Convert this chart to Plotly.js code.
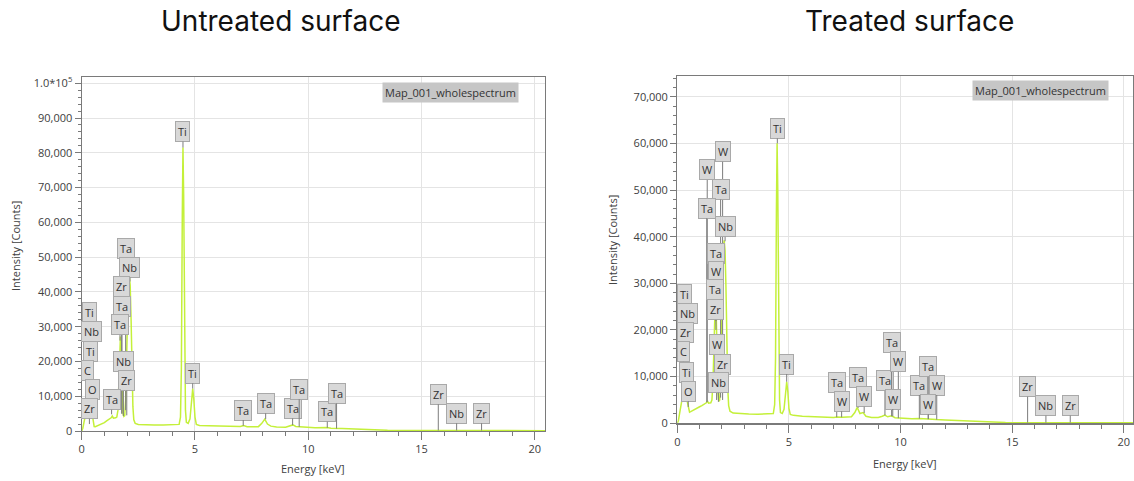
<!DOCTYPE html>
<html>
<head>
<meta charset="utf-8">
<script src="https://cdn.plot.ly/plotly-3.0.1.min.js"></script>
<style>html,body{margin:0;padding:0;background:#fff;}#chart{width:1134px;height:481px;}</style>
</head>
<body>
<div id="chart"></div>
<script>
// ---- Untreated surface spectrum (energy keV, counts) ----
const untreatedEnergy = [0,0.05,0.1,0.15,0.2,0.25,0.28,0.32,0.36,0.4,0.45,0.5,0.55,0.6,0.7,0.8,0.9,1.0,1.1,1.2,1.3,1.35,1.4,1.5,1.55,1.6,1.64,1.68,1.71,1.74,1.78,1.82,1.86,1.9,1.94,1.98,2.02,2.06,2.1,2.14,2.18,2.22,2.26,2.3,2.36,2.5,2.8,3.2,3.6,4.0,4.3,4.36,4.4,4.44,4.47,4.5,4.54,4.58,4.62,4.7,4.78,4.84,4.9,4.95,5.0,5.06,5.2,5.6,6.0,6.5,7.0,7.15,7.3,7.8,7.95,8.08,8.2,8.35,8.6,9.0,9.2,9.32,9.45,9.6,9.8,10.3,10.84,11.0,11.5,12.0,12.5,13.0,13.2,13.5,15,17,19,20.45];
const untreatedCounts = [0,800,2500,4200,5600,6200,6800,5200,5800,6000,5400,2600,1300,1250,1500,1800,2100,2400,2900,3300,3800,4300,3700,3800,4000,6000,14000,25000,27200,21000,9500,5000,4200,4400,9000,22000,36000,43000,44500,42000,32000,18000,7000,3200,2200,1900,1800,1750,1750,1800,1900,4000,18000,62000,81500,68000,26000,6000,2500,2200,3500,9000,12200,9000,4000,1900,1600,1500,1400,1300,1300,1600,1250,1250,2200,3400,2000,1400,1150,1100,1400,1750,1300,1250,1000,900,1000,800,700,600,550,480,300,200,150,120,100,100];

// ---- Treated surface spectrum ----
const treatedEnergy = [0,0.05,0.1,0.15,0.2,0.25,0.28,0.32,0.36,0.4,0.44,0.5,0.55,0.6,0.7,0.8,0.9,1.0,1.1,1.2,1.3,1.35,1.4,1.5,1.55,1.6,1.64,1.68,1.71,1.74,1.78,1.82,1.86,1.9,1.94,1.98,2.02,2.06,2.1,2.14,2.18,2.22,2.26,2.3,2.36,2.5,2.8,3.2,3.6,4.0,4.3,4.36,4.4,4.44,4.47,4.5,4.54,4.58,4.62,4.7,4.78,4.84,4.9,4.95,5.0,5.06,5.2,5.6,6.0,6.5,7.0,7.15,7.4,7.8,7.95,8.06,8.18,8.32,8.45,8.7,9.0,9.18,9.3,9.42,9.6,9.75,10.0,10.5,10.85,11.2,11.6,12.0,12.5,13.0,13.5,14.0,14.5,14.7,16,18,20.41];
const treatedCounts = [0,600,2000,3600,4800,5000,5600,4700,4900,5200,4800,3200,2400,2500,2800,3100,3300,3550,3800,4100,4400,4800,4300,4400,5000,9000,18000,26000,27800,24000,13000,6500,4700,5000,9000,19000,31000,37500,39200,37000,29000,17000,7500,3800,2600,2200,2050,2000,1950,2000,2100,4000,14000,46000,60000,50000,20000,5000,2300,2100,3000,7000,8900,6800,3200,1900,1700,1500,1400,1300,1250,1350,1300,1400,2300,3400,2100,2300,1500,1250,1250,1500,1750,1400,1600,1200,1100,1000,1050,900,800,720,620,500,420,380,340,150,130,120,110];

// ---- Peak labels: untreated ----
const untreatedLabelText = ['Ti','Nb','Ti','C','O','Zr','Ta','Nb','Zr','Ta','Ta','Nb','Zr','Ta','Ti','Ti','Ta','Ta','Ta','Ta','Ta','Ta','Zr','Nb','Zr'];
const untreatedLabelEnergy = [0.34,0.45,0.40,0.25,0.49,0.34,1.94,2.13,1.77,1.77,1.69,1.84,1.99,1.32,4.47,4.90,7.13,8.12,9.31,9.60,10.84,11.25,15.74,16.55,17.65];
const untreatedLabelTip = [5500,5000,5500,5000,4500,2000,6000,43000,5000,5000,26000,4300,4500,4800,81500,12200,1500,3400,1700,1200,900,700,150,150,150];
const untreatedLabelY = [34000,28550,23000,17500,12000,6400,52500,47000,41500,35900,30500,19900,14500,9000,86100,16600,6040,7960,6500,12000,5550,10800,10550,5100,5100];

// ---- Peak labels: treated ----
const treatedLabelText = ['Ti','W','W','Ta','Ta','Nb','Ta','W','Ta','Zr','W','Zr','Nb','Ti','Nb','Zr','C','Ti','O','Ti','Ta','W','Ta','W','Ta','Ta','W','W','Ta','Ta','W','W','Zr','Nb','Zr'];
const treatedLabelEnergy = [4.48,2.03,1.34,1.94,1.32,2.14,1.73,1.73,1.69,1.73,1.76,2.03,1.84,0.34,0.45,0.37,0.27,0.42,0.49,4.90,7.14,7.36,8.10,8.37,9.30,9.60,9.90,9.65,10.84,11.24,11.62,11.24,15.69,16.51,17.60];
const treatedLabelTip = [60000,8000,4600,5500,4500,39000,22000,22000,26000,20000,5000,5000,4600,5000,5000,5000,5000,5000,3500,8900,1300,1300,3300,2200,1700,1500,1100,1500,1000,900,800,900,150,150,150];
const treatedLabelY = [63200,58200,54300,50100,46100,42100,36400,32500,28600,24300,16800,12700,8700,27500,23600,19400,15300,10800,6900,12700,8700,4700,9800,5700,9100,17300,13200,5200,8200,12100,8200,4100,7850,3800,3800];

// ---- Tick labels ----
const untreatedYTickVals = [0,10000,20000,30000,40000,50000,60000,70000,80000,90000,100000];
const untreatedYTickText = ['0','10,000','20,000','30,000','40,000','50,000','60,000','70,000','80,000','90,000','1.0*10<sup>5</sup>'];
const treatedYTickVals = [0,10000,20000,30000,40000,50000,60000,70000];
const treatedYTickText = ['0','10,000','20,000','30,000','40,000','50,000','60,000','70,000'];
const xTickVals = [0,5,10,15,20];
const xTickText = ['0','5','10','15','20'];

const FONT = 'Open Sans, Noto Sans, sans-serif';
const TITLE_FONT = 'Inter, Open Sans, sans-serif';
const lineColor = '#c4f03a';

const traces = [
  {x: untreatedEnergy, y: untreatedCounts, type: 'scatter', mode: 'lines', line: {color: lineColor, width: 1.5}, xaxis: 'x', yaxis: 'y', hoverinfo: 'skip'},
  {x: treatedEnergy, y: treatedCounts, type: 'scatter', mode: 'lines', line: {color: lineColor, width: 1.5}, xaxis: 'x2', yaxis: 'y2', hoverinfo: 'skip'}
];

function labelAnns(texts, E, tips, ys, xr, yr) {
  return texts.map((t, i) => ({
    text: t, x: E[i], y: tips[i], ax: E[i], ay: ys[i],
    xref: xr, yref: yr, axref: xr, ayref: yr,
    showarrow: true, arrowhead: 0, arrowwidth: 1, arrowcolor: '#7c7c7c', standoff: 0,
    bgcolor: '#d8d8d8', bordercolor: '#a9a9a9', borderwidth: 1, borderpad: 2,
    font: {family: FONT, size: 11, color: '#333'}
  }));
}

const axisCommon = {
  showline: true, linecolor: '#7a7a7a', linewidth: 1.2, mirror: true,
  showgrid: true, gridcolor: '#e4e4e4', gridwidth: 1, zeroline: false,
  ticks: 'outside', tickcolor: '#7a7a7a', tickfont: {family: FONT, size: 11, color: '#404040'},
  fixedrange: true
};

function xAxis(domain, range, anchor) {
  return Object.assign({}, axisCommon, {
    domain: domain, range: range, anchor: anchor,
    tickmode: 'array', tickvals: xTickVals, ticktext: xTickText, ticklen: 8,
    minor: {dtick: 1, tick0: 0, ticklen: 4, tickcolor: '#7a7a7a', showgrid: false, ticks: 'outside'}
  });
}
function yAxis(domain, range, anchor, vals, text) {
  return Object.assign({}, axisCommon, {
    domain: domain, range: range, anchor: anchor,
    tickmode: 'array', tickvals: vals, ticktext: text, ticklen: 6,
    minor: {dtick: 2000, tick0: 0, ticklen: 3, tickcolor: '#7a7a7a', showgrid: false, ticks: 'outside'}
  });
}

const W = 1134, H = 481;
const px = v => v / W, py = v => 1 - v / H;

const textAnns = [
  {text: 'Untreated surface', x: px(280), y: py(21), xref: 'paper', yref: 'paper', showarrow: false, xanchor: 'center', yanchor: 'middle', font: {family: TITLE_FONT, size: 28, color: '#111'}},
  {text: 'Treated surface', x: px(909), y: py(21), xref: 'paper', yref: 'paper', showarrow: false, xanchor: 'center', yanchor: 'middle', font: {family: TITLE_FONT, size: 28, color: '#111'}},
  {text: 'Intensity [Counts]', x: px(15), y: py(246), xref: 'paper', yref: 'paper', showarrow: false, textangle: -90, xanchor: 'center', yanchor: 'middle', font: {family: FONT, size: 11, color: '#404040'}},
  {text: 'Intensity [Counts]', x: px(612), y: py(240), xref: 'paper', yref: 'paper', showarrow: false, textangle: -90, xanchor: 'center', yanchor: 'middle', font: {family: FONT, size: 11, color: '#404040'}},
  {text: 'Energy [keV]', x: px(313), y: py(468), xref: 'paper', yref: 'paper', showarrow: false, xanchor: 'center', yanchor: 'middle', font: {family: FONT, size: 11, color: '#404040'}},
  {text: 'Energy [keV]', x: px(905), y: py(463), xref: 'paper', yref: 'paper', showarrow: false, xanchor: 'center', yanchor: 'middle', font: {family: FONT, size: 11, color: '#404040'}},
  {text: 'Map_001_wholespectrum', x: px(450), y: py(92), xref: 'paper', yref: 'paper', showarrow: false, xanchor: 'center', yanchor: 'middle', bgcolor: '#c6c6c6', borderpad: 2, font: {family: FONT, size: 11, color: '#333'}},
  {text: 'Map_001_wholespectrum', x: px(1040), y: py(90), xref: 'paper', yref: 'paper', showarrow: false, xanchor: 'center', yanchor: 'middle', bgcolor: '#c6c6c6', borderpad: 2, font: {family: FONT, size: 11, color: '#333'}}
];

const layout = {
  width: W, height: H,
  margin: {l: 0, r: 0, t: 0, b: 0},
  paper_bgcolor: '#ffffff', plot_bgcolor: '#ffffff',
  showlegend: false,
  xaxis: xAxis([px(81.7), px(545)], [0, 20.45], 'y'),
  yaxis: yAxis([1 - 431 / H, 1 - 77 / H], [0, 101800], 'x', untreatedYTickVals, untreatedYTickText),
  xaxis2: xAxis([px(677.3), px(1133)], [0, 20.41], 'y2'),
  yaxis2: yAxis([1 - 423.3 / H, 1 - 75.7 / H], [0, 74500], 'x2', treatedYTickVals, treatedYTickText),
  annotations: textAnns
    .concat(labelAnns(untreatedLabelText, untreatedLabelEnergy, untreatedLabelTip, untreatedLabelY, 'x', 'y'))
    .concat(labelAnns(treatedLabelText, treatedLabelEnergy, treatedLabelTip, treatedLabelY, 'x2', 'y2'))
};

Plotly.newPlot('chart', traces, layout, {displayModeBar: false, staticPlot: true});
</script>
</body>
</html>
